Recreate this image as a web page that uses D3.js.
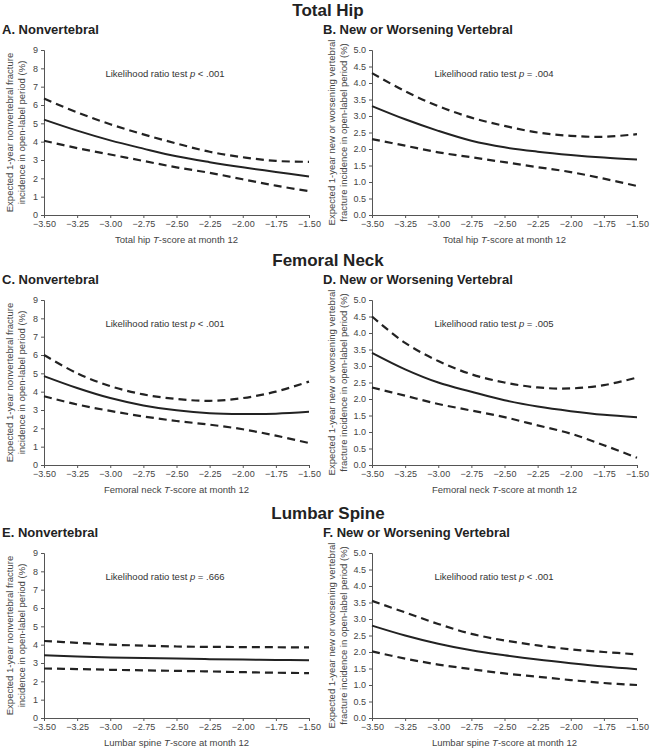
<!DOCTYPE html>
<html>
<head>
<meta charset="utf-8">
<script src="https://cdn.jsdelivr.net/npm/d3@7"></script>
<style>
  body { margin: 0; background: #fff; }
  svg { font-family: "Liberation Sans", Arial, sans-serif; }
  .tick text { fill: #444; font-size: 9px; }
  .domain, .tick line { stroke: #555; }
</style>
</head>
<body>
<svg id="chart" width="650" height="750"></svg>
<script>
// x positions (T-score at month 12)
var tScores = [-3.5, -3.25, -3.0, -2.75, -2.5, -2.25, -2.0, -1.75, -1.5]

// A. Total hip, nonvertebral
var aEst = [5.2, 4.6, 4.07, 3.62, 3.2, 2.88, 2.6, 2.35, 2.1]
var aHi = [6.35, 5.6, 4.95, 4.4, 3.9, 3.45, 3.15, 2.95, 2.9]
var aLo = [4.05, 3.65, 3.3, 2.95, 2.6, 2.3, 1.95, 1.6, 1.3]

// B. Total hip, new or worsening vertebral
var bEst = [3.3, 2.9, 2.55, 2.25, 2.05, 1.92, 1.82, 1.74, 1.68]
var bHi = [4.3, 3.75, 3.3, 2.95, 2.7, 2.5, 2.4, 2.37, 2.45]
var bLo = [2.3, 2.1, 1.9, 1.75, 1.6, 1.45, 1.3, 1.1, 0.88]

// C. Femoral neck, nonvertebral
var cEst = [4.85, 4.2, 3.65, 3.25, 2.98, 2.82, 2.78, 2.8, 2.9]
var cHi = [6.0, 5.0, 4.3, 3.85, 3.6, 3.5, 3.65, 4.0, 4.55]
var cLo = [3.75, 3.3, 2.95, 2.65, 2.4, 2.2, 1.95, 1.6, 1.2]

// D. Femoral neck, new or worsening vertebral
var dEst = [3.4, 2.9, 2.5, 2.22, 1.96, 1.77, 1.63, 1.52, 1.45]
var dHi = [4.5, 3.7, 3.15, 2.75, 2.5, 2.35, 2.32, 2.42, 2.65]
var dLo = [2.35, 2.1, 1.85, 1.65, 1.45, 1.2, 0.95, 0.6, 0.22]

// E. Lumbar spine, nonvertebral
var eEst = [3.42, 3.35, 3.3, 3.27, 3.24, 3.21, 3.19, 3.17, 3.15]
var eHi = [4.2, 4.1, 4.0, 3.95, 3.9, 3.88, 3.87, 3.86, 3.85]
var eLo = [2.7, 2.67, 2.63, 2.6, 2.57, 2.54, 2.5, 2.47, 2.45]

// F. Lumbar spine, new or worsening vertebral
var fEst = [2.8, 2.5, 2.25, 2.05, 1.9, 1.77, 1.66, 1.56, 1.48]
var fHi = [3.55, 3.2, 2.85, 2.55, 2.35, 2.2, 2.08, 2.0, 1.93]
var fLo = [2.02, 1.8, 1.62, 1.48, 1.35, 1.25, 1.15, 1.06, 1.0]

var xTicks = [-3.5, -3.25, -3.0, -2.75, -2.5, -2.25, -2.0, -1.75, -1.5]
var nvTicks = [0, 1, 2, 3, 4, 5, 6, 7, 8, 9]
var vTicks = [0, 0.5, 1.0, 1.5, 2.0, 2.5, 3.0, 3.5, 4.0, 4.5, 5.0]

var sections = ['Total Hip', 'Femoral Neck', 'Lumbar Spine']
var sites = ['Total hip', 'Femoral neck', 'Lumbar spine']
var pValues = ['< .001', '= .004', '< .001', '= .005', '= .666', '< .001']

var nvTitle = ['Expected 1-year nonvertebral fracture', 'incidence in open-label period (%)']
var vTitle = ['Expected 1-year new or worsening vertebral', 'fracture incidence in open-label period (%)']

var panels = [
  { letter: 'A', kind: 'nv', est: aEst, hi: aHi, lo: aLo },
  { letter: 'B', kind: 'v', est: bEst, hi: bHi, lo: bLo },
  { letter: 'C', kind: 'nv', est: cEst, hi: cHi, lo: cLo },
  { letter: 'D', kind: 'v', est: dEst, hi: dHi, lo: dLo },
  { letter: 'E', kind: 'nv', est: eEst, hi: eHi, lo: eLo },
  { letter: 'F', kind: 'v', est: fEst, hi: fHi, lo: fLo }
]

var svg = d3.select('#chart')

var rowTop = [50, 300, 553]
var plotH = 165
var colLeft = [44, 372]
var plotW = 265

sections.forEach(function (s, r) {
  svg.append('text')
    .attr('x', 328)
    .attr('y', rowTop[r] - 34)
    .attr('text-anchor', 'middle')
    .style('font-size', '17px')
    .style('font-weight', 'bold')
    .attr('fill', '#222')
    .text(s)
})

panels.forEach(function (p, i) {
  var row = Math.floor(i / 2)
  var col = i % 2
  var left = colLeft[col]
  var top = rowTop[row]

  var x = d3.scaleLinear().domain([-3.5, -1.5]).range([0, plotW])
  var y = d3.scaleLinear()
    .domain(p.kind === 'nv' ? [0, 9] : [0, 5])
    .range([plotH, 0])

  var g = svg.append('g').attr('transform', 'translate(' + left + ',' + top + ')')

  // panel title
  g.append('text')
    .attr('x', col === 0 ? -42 : -49)
    .attr('y', -16)
    .style('font-size', '13px')
    .style('font-weight', 'bold')
    .attr('fill', '#222')
    .text(p.letter + '. ' + (p.kind === 'nv' ? 'Nonvertebral' : 'New or Worsening Vertebral'))

  g.append('g')
    .attr('transform', 'translate(0,' + plotH + ')')
    .call(d3.axisBottom(x).tickValues(xTicks).tickFormat(d3.format('.2f')).tickSize(3).tickPadding(3))

  g.append('g')
    .call(d3.axisLeft(y)
      .tickValues(p.kind === 'nv' ? nvTicks : vTicks)
      .tickFormat(d3.format(p.kind === 'nv' ? 'd' : '.1f'))
      .tickSize(3).tickPadding(3))

  g.selectAll('.domain').attr('stroke', '#555')

  // x axis title
  var xt = g.append('text')
    .attr('x', plotW / 2)
    .attr('y', plotH + 28)
    .attr('text-anchor', 'middle')
    .style('font-size', '9.5px')
    .attr('fill', '#444')
  xt.append('tspan').text(sites[row] + ' ')
  xt.append('tspan').style('font-style', 'italic').text('T')
  xt.append('tspan').text('-score at month 12')

  // y axis title
  var lines = p.kind === 'nv' ? nvTitle : vTitle
  var yOff = p.kind === 'nv' ? -31 : -37
  lines.forEach(function (t, k) {
    g.append('text')
      .attr('transform', 'translate(' + (yOff + k * 12) + ',' + (plotH / 2) + ') rotate(-90)')
      .attr('text-anchor', 'middle')
      .style('font-size', '9.5px')
      .attr('fill', '#444')
      .text(t)
  })

  // annotation
  var ann = g.append('text')
    .attr('x', col === 0 ? 121 : 122)
    .attr('y', 27)
    .attr('text-anchor', 'middle')
    .style('font-size', '9.5px')
    .attr('fill', '#333')
  ann.append('tspan').text('Likelihood ratio test ')
  ann.append('tspan').style('font-style', 'italic').text('p')
  ann.append('tspan').text(' ' + pValues[i])

  var line = d3.line()
    .x(function (d, j) { return x(tScores[j]) })
    .y(function (d) { return y(d) })
    .curve(d3.curveCatmullRom.alpha(0.5))

  g.append('path')
    .attr('d', line(p.hi))
    .attr('fill', 'none')
    .attr('stroke', '#222')
    .attr('stroke-width', 2.2)
    .attr('stroke-dasharray', '8,5')

  g.append('path')
    .attr('d', line(p.lo))
    .attr('fill', 'none')
    .attr('stroke', '#222')
    .attr('stroke-width', 2.2)
    .attr('stroke-dasharray', '8,5')

  g.append('path')
    .attr('d', line(p.est))
    .attr('fill', 'none')
    .attr('stroke', '#222')
    .attr('stroke-width', 2)
})
</script>
</body>
</html>
